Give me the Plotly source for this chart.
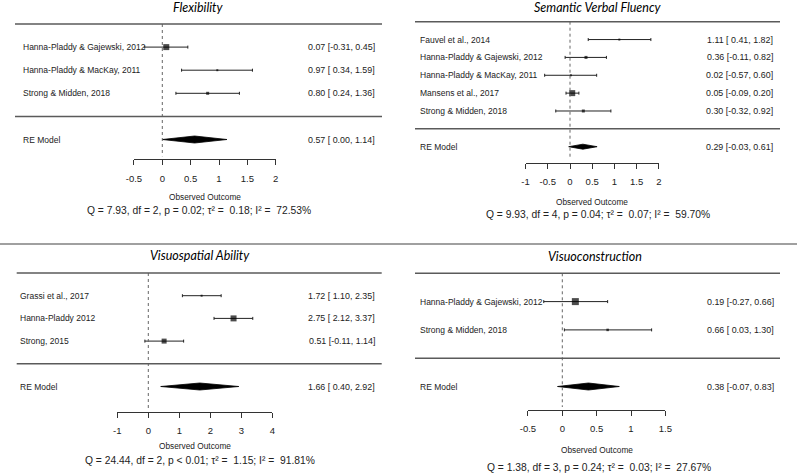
import plotly.graph_objects as go

W, H = 797, 476

# ------------------------------------------------------------------ data
flex_studies = ["Hanna-Pladdy & Gajewski, 2012", "Hanna-Pladdy & MacKay, 2011", "Strong & Midden, 2018"]
flex_est = [0.07, 0.97, 0.80]
flex_lo = [-0.31, 0.34, 0.24]
flex_hi = [0.45, 1.59, 1.36]
flex_re = [0.57, 0.00, 1.14]
flex_stats = "Q = 7.93, df = 2, p = 0.02; τ² =  0.18; I² =  72.53%"
flex_ticks = [-0.5, 0, 0.5, 1, 1.5, 2]

svf_studies = ["Fauvel et al., 2014", "Hanna-Pladdy & Gajewski, 2012", "Hanna-Pladdy & MacKay, 2011",
               "Mansens et al., 2017", "Strong & Midden, 2018"]
svf_est = [1.11, 0.36, 0.02, 0.05, 0.30]
svf_lo = [0.41, -0.11, -0.57, -0.09, -0.32]
svf_hi = [1.82, 0.82, 0.60, 0.20, 0.92]
svf_re = [0.29, -0.03, 0.61]
svf_stats = "Q = 9.93, df = 4, p = 0.04; τ² =  0.07; I² =  59.70%"
svf_ticks = [-1, -0.5, 0, 0.5, 1, 1.5, 2]

vsa_studies = ["Grassi et al., 2017", "Hanna-Pladdy 2012", "Strong, 2015"]
vsa_est = [1.72, 2.75, 0.51]
vsa_lo = [1.10, 2.12, -0.11]
vsa_hi = [2.35, 3.37, 1.14]
vsa_re = [1.66, 0.40, 2.92]
vsa_stats = "Q = 24.44, df = 2, p < 0.01; τ² =  1.15; I² =  91.81%"
vsa_ticks = [-1, 0, 1, 2, 3, 4]

vc_studies = ["Hanna-Pladdy & Gajewski, 2012", "Strong & Midden, 2018"]
vc_est = [0.19, 0.66]
vc_lo = [-0.27, 0.03]
vc_hi = [0.66, 1.30]
vc_re = [0.38, -0.07, 0.83]
vc_stats = "Q = 1.38, df = 3, p = 0.24; τ² =  0.03; I² =  27.67%"
vc_ticks = [-0.5, 0, 0.5, 1, 1.5]

titles = ["Flexibility", "Semantic Verbal Fluency", "Visuospatial Ability", "Visuoconstruction"]

panels = [
    dict(title=titles[0], studies=flex_studies, est=flex_est, lo=flex_lo, hi=flex_hi, re=flex_re, stats=flex_stats, ticks=flex_ticks),
    dict(title=titles[1], studies=svf_studies, est=svf_est, lo=svf_lo, hi=svf_hi, re=svf_re, stats=svf_stats, ticks=svf_ticks),
    dict(title=titles[2], studies=vsa_studies, est=vsa_est, lo=vsa_lo, hi=vsa_hi, re=vsa_re, stats=vsa_stats, ticks=vsa_ticks),
    dict(title=titles[3], studies=vc_studies, est=vc_est, lo=vc_lo, hi=vc_hi, re=vc_re, stats=vc_stats, ticks=vc_ticks),
]

# ------------------------------------------------------------------ layout geometry (pixels)
geo = [
    dict(x0=162.3, unit=56.7, title_y=7, top=24, re=139.5, axis=159.3, obs=196.7, q=210.7,
         lx=(15, 382), label_x=21, right_x=377, title_cx=198.7, q_cx=198.8, sizes=[6, 2, 3], dh=3.5),
    dict(x0=570.0, unit=44.43, title_y=7.3, top=21.7, re=146.7, axis=162.7, obs=202, q=214.3,
         lx=(415, 780), label_x=418, right_x=775, title_cx=597.5, q_cx=598, sizes=[2, 3, 2, 6, 3], dh=2.5),
    dict(x0=148.3, unit=31.0, title_y=255, top=273, re=386.5, axis=412, obs=446, q=460,
         lx=(16.7, 381.7), label_x=18.3, right_x=376.7, title_cx=200, q_cx=199.5, sizes=[2, 6, 5], dh=3.5),
    dict(x0=562.3, unit=68.7, title_y=256.7, top=273.3, re=386.5, axis=410, obs=449.5, q=467,
         lx=(415, 780), label_x=418.3, right_x=775.7, title_cx=595, q_cx=599, sizes=[7, 2.5], dh=3.5),
]

SANS = "Liberation Sans, Arial, sans-serif"
TITLE = "Lato, Open Sans, sans-serif"
TXT = "#222222"
LINE = "#5a5a5a"
LABEL_SIZE = 8.5
CI_SIZE = 8.9


def ci_text(est, lo, hi):
    s = f"{est:.2f} [{lo:5.2f}, {hi:.2f}]"
    return s.replace("[ ", "[\u00a0")


fig = go.Figure()
shapes = []
annotations = []
layout_axes = {}

for i, (p, g) in enumerate(zip(panels, geo)):
    n = i + 1
    xa = "x" if n == 1 else f"x{n}"
    xkey = "xaxis" if n == 1 else f"xaxis{n}"
    k = len(p["studies"])
    step = (g["re"] - g["top"]) / (k + 2)
    rows = [g["top"] + step * (j + 1) for j in range(k)]
    bottom = g["top"] + step * (k + 1)

    ticks = p["ticks"]
    d0 = (g["x0"] + g["unit"] * ticks[0]) / W
    d1 = (g["x0"] + g["unit"] * ticks[-1]) / W
    layout_axes[xkey] = dict(
        domain=[d0, d1], range=[ticks[0], ticks[-1]], anchor="free", position=1 - g["axis"] / H,
        side="bottom", tickmode="array", tickvals=ticks, ticktext=[f"{t:g}" for t in ticks],
        ticks="outside", ticklen=5, tickwidth=1, tickcolor="#333", showline=True, linecolor="#333",
        linewidth=1, showgrid=False, zeroline=False, fixedrange=True, automargin=False,
        ticklabelstandoff=5, tickfont=dict(family=SANS, size=9.5, color=TXT),
    )

    # reference line at 0
    shapes.append(dict(type="line", xref=xa, yref="y", x0=0, x1=0, y0=g["top"], y1=g["axis"] - 3,
                       line=dict(color="#666", width=1, dash="dot")))
    # horizontal rules
    for yy in (g["top"], bottom):
        shapes.append(dict(type="line", xref="paper", yref="y", x0=g["lx"][0] / W, x1=g["lx"][1] / W,
                           y0=yy, y1=yy, line=dict(color=LINE, width=1.5)))

    # study estimates with CIs
    fig.add_trace(go.Scatter(
        x=p["est"], y=rows, mode="markers", xaxis=xa, yaxis="y", cliponaxis=False,
        marker=dict(symbol="square", size=g["sizes"], color="black", line=dict(width=0)),
        error_x=dict(type="data", symmetric=False,
                     array=[h - e for h, e in zip(p["hi"], p["est"])],
                     arrayminus=[e - l for e, l in zip(p["est"], p["lo"])],
                     width=1.5, thickness=1, color="#222"),
        hoverinfo="skip", showlegend=False,
    ))
    # RE diamond
    est, lo, hi = p["re"]
    yr = g["re"]
    fig.add_trace(go.Scatter(
        x=[lo, est, hi, est, lo], y=[yr, yr - g["dh"], yr, yr + g["dh"], yr],
        mode="lines", fill="toself", fillcolor="black", line=dict(color="black", width=0.8),
        xaxis=xa, yaxis="y", hoverinfo="skip", showlegend=False, cliponaxis=False,
    ))

    # text
    for name, e, l, h, yy in zip(p["studies"], p["est"], p["lo"], p["hi"], rows):
        annotations.append(dict(text=name, x=g["label_x"] / W, y=yy, xref="paper", yref="y",
                                xanchor="left", yanchor="middle", showarrow=False,
                                font=dict(family=SANS, size=LABEL_SIZE, color=TXT)))
        annotations.append(dict(text=ci_text(e, l, h), x=g["right_x"] / W, y=yy, xref="paper", yref="y",
                                xanchor="right", yanchor="middle", showarrow=False,
                                font=dict(family=SANS, size=CI_SIZE, color=TXT)))
    annotations.append(dict(text="RE Model", x=g["label_x"] / W, y=yr, xref="paper", yref="y",
                            xanchor="left", yanchor="middle", showarrow=False,
                            font=dict(family=SANS, size=LABEL_SIZE, color=TXT)))
    annotations.append(dict(text=ci_text(est, lo, hi), x=g["right_x"] / W, y=yr, xref="paper", yref="y",
                            xanchor="right", yanchor="middle", showarrow=False,
                            font=dict(family=SANS, size=CI_SIZE, color=TXT)))
    annotations.append(dict(text=f"<i>{p['title']}</i>", x=g["title_cx"] / W, y=g["title_y"], xref="paper",
                            yref="y", xanchor="center", yanchor="middle", showarrow=False,
                            font=dict(family=TITLE, size=12.5, color="black")))
    annotations.append(dict(text="Observed Outcome", x=(g["x0"] + g["unit"] * (ticks[0] + ticks[-1]) / 2) / W,
                            y=g["obs"], xref="paper", yref="y", xanchor="center", yanchor="middle",
                            showarrow=False, font=dict(family=SANS, size=8.3, color=TXT)))
    annotations.append(dict(text=p["stats"].replace("  ", " \u00a0"), x=g["q_cx"] / W, y=g["q"], xref="paper",
                            yref="y", xanchor="center", yanchor="middle", showarrow=False,
                            font=dict(family=SANS, size=10.3, color=TXT)))

# separator between rows of panels
shapes.append(dict(type="line", xref="paper", yref="y", x0=0, x1=1, y0=244, y1=244,
                   line=dict(color="#a0a0a0", width=2)))

fig.update_layout(
    width=W, height=H, margin=dict(l=0, r=0, t=0, b=0, pad=0),
    paper_bgcolor="white", plot_bgcolor="rgba(0,0,0,0)",
    yaxis=dict(domain=[0, 1], range=[H, 0], visible=False, anchor="free", position=0,
               fixedrange=True, automargin=False),
    shapes=shapes, annotations=annotations, showlegend=False,
    **layout_axes,
)

fig.write_html(
    "out.html",
    config={"displayModeBar": False, "staticPlot": True},
    post_script="document.body.style.margin='0';document.body.style.padding='0';"
                "document.body.style.overflow='hidden';",
)
